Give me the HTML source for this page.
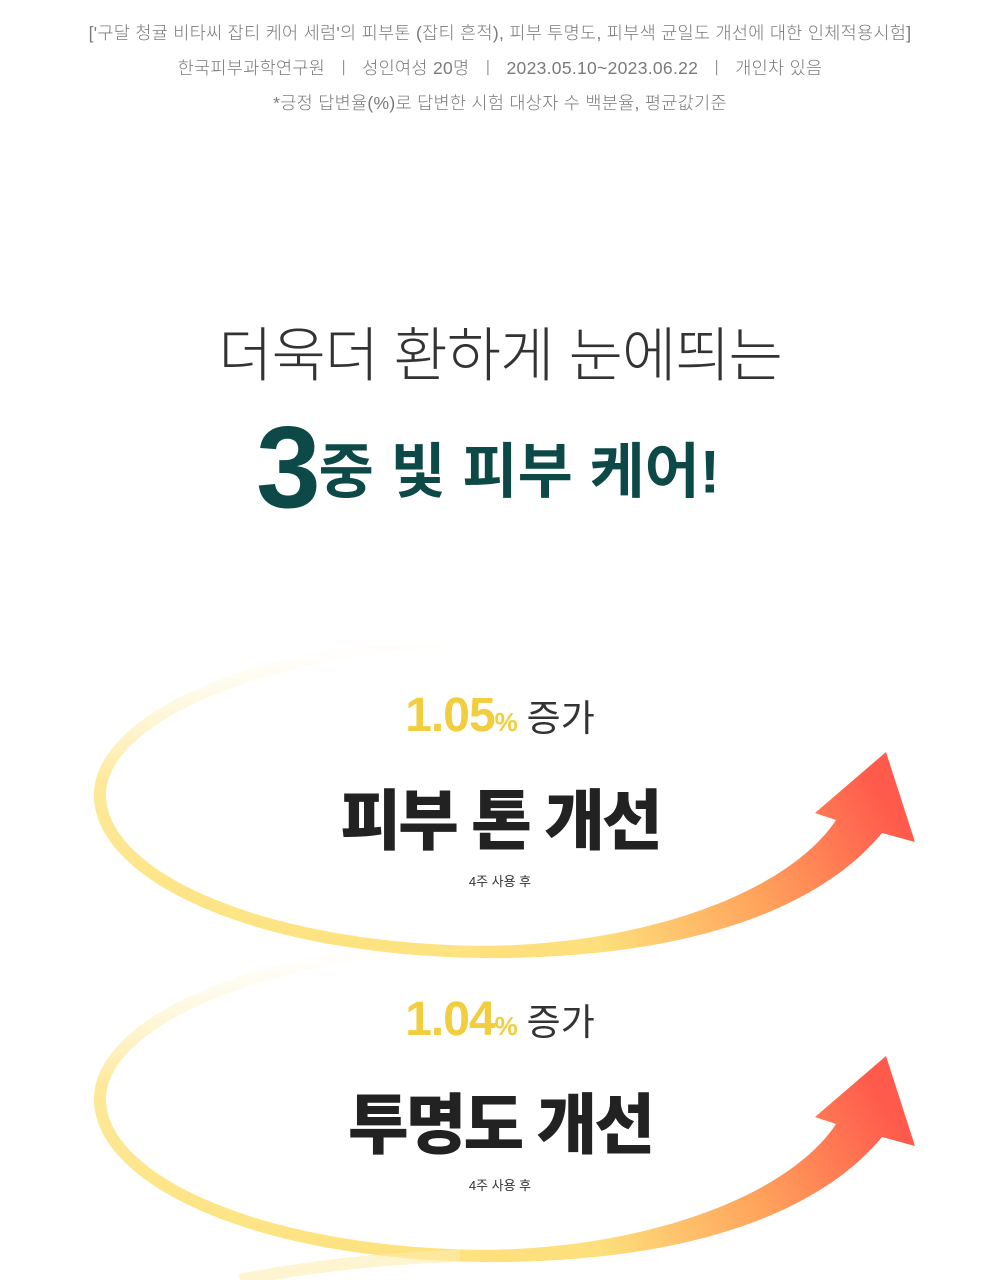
<!DOCTYPE html>
<html><head><meta charset="utf-8"><style>
body{margin:0;width:1000px;height:1280px;background:#fff;position:relative;overflow:hidden;font-family:"Liberation Sans","Noto Sans CJK KR",sans-serif}
.t{position:absolute;left:0;width:1000px;text-align:center;white-space:nowrap}
.sm{font-size:17.5px;color:#7a7a7a;font-weight:300;letter-spacing:0.3px}
svg{position:absolute;left:0;top:0}
</style></head><body>
<svg width="1000" height="1280" viewBox="0 0 1000 1280">
<defs>
<linearGradient id="e" x1="0" y1="640" x2="0" y2="955" gradientUnits="userSpaceOnUse">
<stop offset="0" stop-color="#fff6d8" stop-opacity="0"/><stop offset="0.45" stop-color="#fde99a"/><stop offset="1" stop-color="#fde27e"/></linearGradient>
<linearGradient id="s" x1="600" y1="950" x2="880" y2="790" gradientUnits="userSpaceOnUse">
<stop offset="0" stop-color="#fde07c"/><stop offset="0.5" stop-color="#ffa45c"/><stop offset="1" stop-color="#ff5a4c"/></linearGradient>
<g id="sw">
<path d="M500 640 C260 642 97 720 100 797 C103 880 270 953 500 952" fill="none" stroke="url(#e)" stroke-width="12"/>
<path d="M480 958 C660 960 810 920 882 833 L915 842 L886 752 L815 813 L836 820 C790 890 650 945 480 946 Z" fill="url(#s)"/>
</g>
</defs>
<use href="#sw"/>
<use href="#sw" y="304"/>
<path d="M240 1280 C300 1268 380 1258 460 1256" fill="none" stroke="#fdedb0" stroke-width="12" opacity="0.6"/>
</svg>
<div class="t sm" style="top:20px">['구달 청귤 비타씨 잡티 케어 세럼'의 피부톤 (잡티 흔적), 피부 투명도, 피부색 균일도 개선에 대한 인체적용시험]</div>
<div class="t sm" style="top:55px">한국피부과학연구원 &nbsp;ㅣ&nbsp; 성인여성 20명 &nbsp;ㅣ&nbsp; 2023.05.10~2023.06.22 &nbsp;ㅣ&nbsp; 개인차 있음</div>
<div class="t sm" style="top:90px">*긍정 답변율(%)로 답변한 시험 대상자 수 백분율, 평균값기준</div>
<div class="t" style="top:308px;font-size:59px;color:#333;font-weight:300;letter-spacing:-1px">더욱더 환하게 눈에띄는</div>
<div class="t" style="top:400px;left:-12px;color:#0d4a47;font-weight:bold;letter-spacing:-1px"><span style="font-size:116px;vertical-align:middle;letter-spacing:-2px">3</span><span style="font-size:60px;vertical-align:middle;letter-spacing:0px">중 빛 피부 케어!</span></div>

<div class="t" style="top:688px;font-weight:bold"><span style="font-size:48px;color:#f1cd3f;letter-spacing:-1px">1.05</span><span style="font-size:26px;color:#f1cd3f">%</span>&nbsp; <span style="font-size:37px;color:#333;font-weight:normal">증가</span></div>
<div class="t" style="top:768px;font-size:66px;font-weight:900;color:#222;letter-spacing:-3px">피부 톤 개선</div>
<div class="t" style="top:871px;font-size:13px;color:#333">4주 사용 후</div>

<div class="t" style="top:992px;font-weight:bold"><span style="font-size:48px;color:#f1cd3f;letter-spacing:-1px">1.04</span><span style="font-size:26px;color:#f1cd3f">%</span>&nbsp; <span style="font-size:37px;color:#333;font-weight:normal">증가</span></div>
<div class="t" style="top:1072px;font-size:66px;font-weight:900;color:#222;letter-spacing:-3px">투명도 개선</div>
<div class="t" style="top:1175px;font-size:13px;color:#333">4주 사용 후</div>
</body></html>
